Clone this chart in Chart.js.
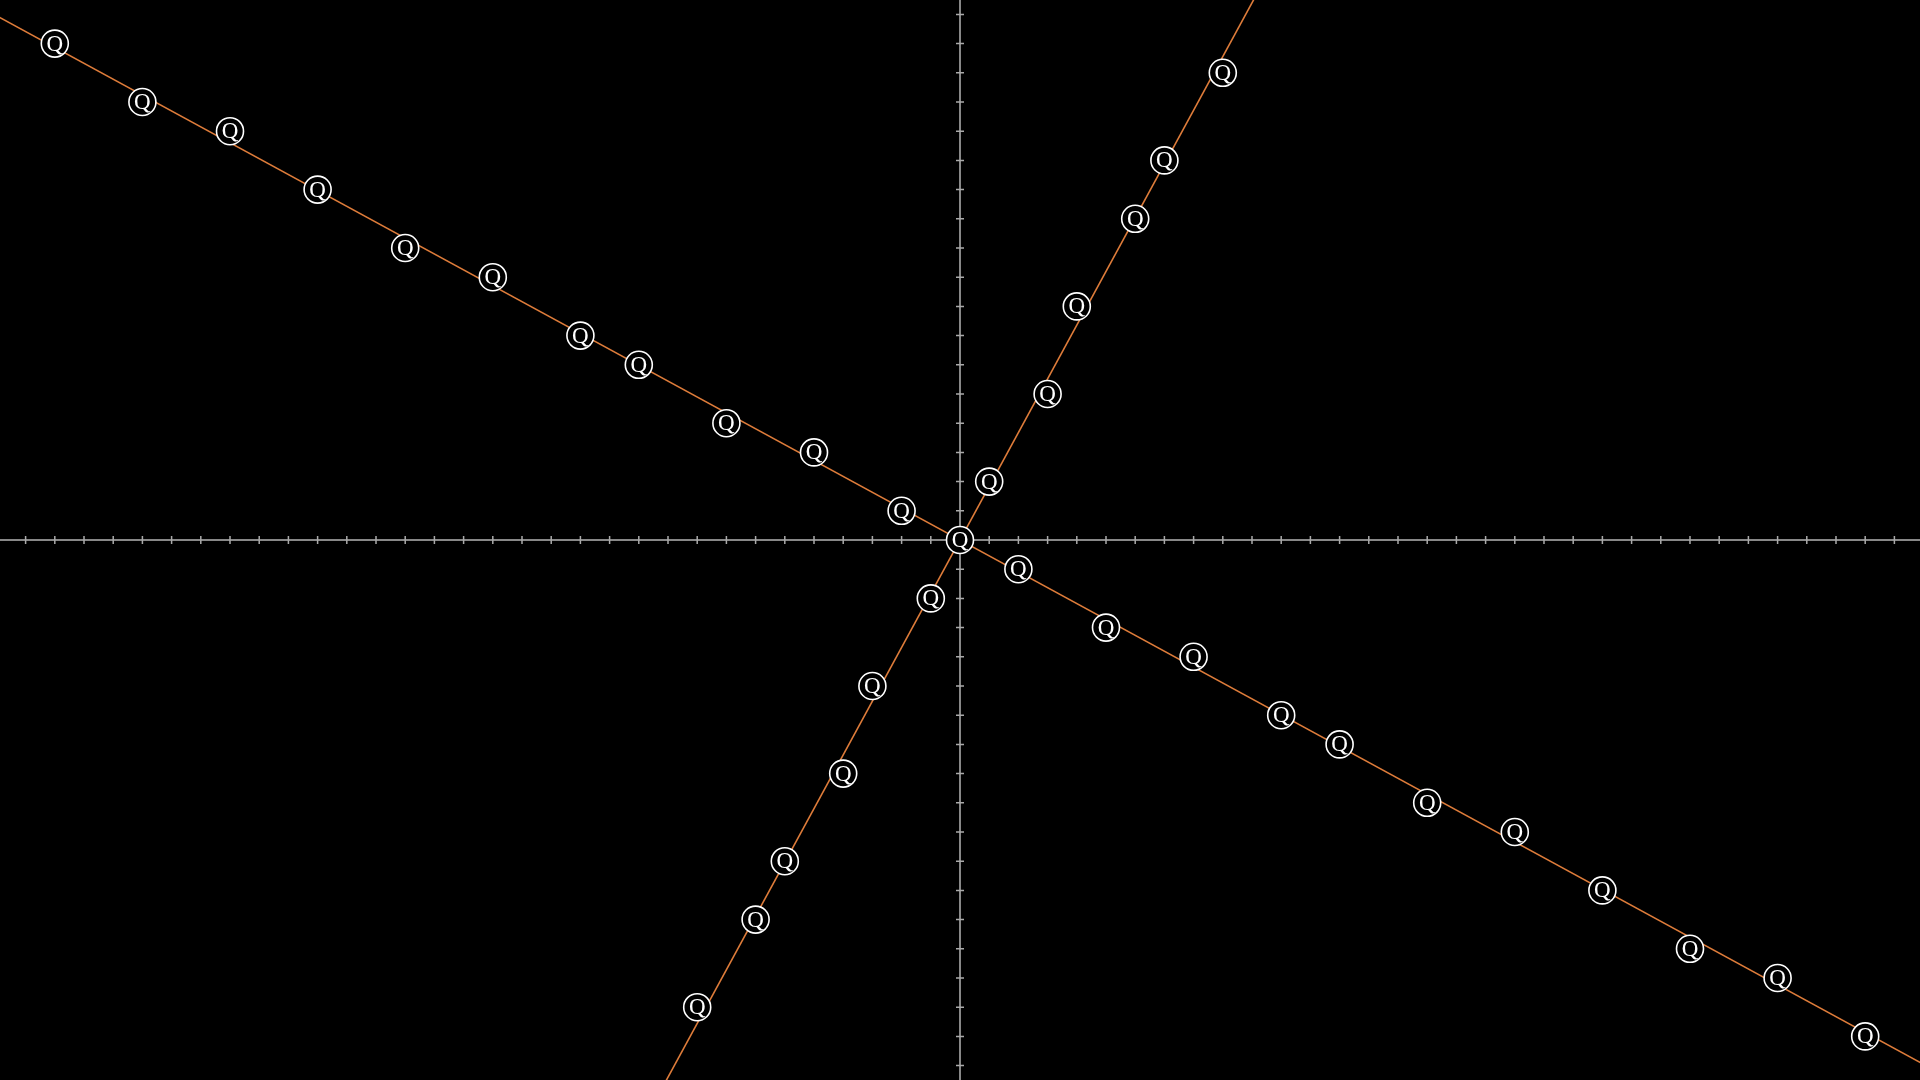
<!DOCTYPE html>
<html>
<head>
<meta charset="utf-8">
<script src="https://cdn.jsdelivr.net/npm/chart.js@4.4.1/dist/chart.umd.min.js"></script>
<style>
  html, body { margin: 0; padding: 0; background: #000; }
  canvas { display: block; }
</style>
</head>
<body>
<canvas id="plot" width="1920" height="1080"></canvas>
<script>
// view range, in tick units
const xRange = [-32.877, 32.877];
const yRange = [-18.493, 18.493];

// marked points along the shallow line
const shallowX = [-31, -28, -25, -22, -19, -16, -13, -11, -8, -5, -2, 0, 2, 5, 8, 11, 13, 16, 19, 22, 25, 28, 31];
const shallowY = [17, 15, 14, 12, 10, 9, 7, 6, 4, 3, 1, 0, -1, -3, -4, -6, -7, -9, -10, -12, -14, -15, -17];

// marked points along the steep line
const steepX = [-9, -7, -6, -4, -3, -1, 1, 3, 4, 6, 7, 9];
const steepY = [-16, -13, -11, -8, -5, -2, 2, 5, 8, 11, 13, 16];

// line ends (just past the edges)
const shallowLineX = [-34, 34];
const shallowLineY = [18.5, -18.5];
const steepLineX = [-10.6, 10.6];
const steepLineY = [-19.5, 19.5];

const markerLabel = 'Q';

const toPoints = (xs, ys) => xs.map((x, i) => ({ x: x, y: ys[i] }));

// axes with ticks crossing the line on both sides
const axesPlugin = {
  id: 'axes',
  beforeDatasetsDraw(chart) {
    const { ctx, scales: { x, y } } = chart;
    const x0 = x.getPixelForValue(0);
    const y0 = y.getPixelForValue(0);
    ctx.save();
    ctx.strokeStyle = '#888888';
    ctx.lineWidth = 2;
    ctx.beginPath();
    ctx.moveTo(x.left, y0);
    ctx.lineTo(x.right, y0);
    ctx.moveTo(x0, y.top);
    ctx.lineTo(x0, y.bottom);
    ctx.stroke();

    ctx.strokeStyle = '#aaaaaa';
    ctx.lineWidth = 1.5;
    ctx.beginPath();
    for (let v = Math.ceil(x.min); v <= Math.floor(x.max); v++) {
      if (v === 0) continue;
      const px = x.getPixelForValue(v);
      ctx.moveTo(px, y0 - 4);
      ctx.lineTo(px, y0 + 4);
    }
    for (let v = Math.ceil(y.min); v <= Math.floor(y.max); v++) {
      if (v === 0) continue;
      const py = y.getPixelForValue(v);
      ctx.moveTo(x0 - 4, py);
      ctx.lineTo(x0 + 4, py);
    }
    ctx.stroke();
    ctx.restore();
  }
};

// letter inside every marker
const labelPlugin = {
  id: 'markerLabels',
  afterDatasetsDraw(chart) {
    const { ctx } = chart;
    ctx.save();
    ctx.fillStyle = '#ffffff';
    ctx.font = '23px "Liberation Serif", "DejaVu Serif", serif';
    ctx.textAlign = 'center';
    ctx.textBaseline = 'middle';
    chart.data.datasets.forEach((ds, i) => {
      if (!ds.marked) return;
      chart.getDatasetMeta(i).data.forEach(pt => {
        ctx.fillText(markerLabel, pt.x, pt.y + 1);
      });
    });
    ctx.restore();
  }
};

const lineStyle = {
  showLine: true,
  borderColor: '#de7c3a',
  borderWidth: 1.6,
  pointRadius: 0,
  order: 2
};

const markerStyle = {
  showLine: false,
  marked: true,
  pointRadius: 13.5,
  pointHoverRadius: 13.5,
  pointBackgroundColor: '#000000',
  pointBorderColor: '#ffffff',
  pointBorderWidth: 1.6,
  order: 1
};

new Chart(document.getElementById('plot'), {
  type: 'scatter',
  data: {
    datasets: [
      { ...lineStyle, data: toPoints(shallowLineX, shallowLineY) },
      { ...lineStyle, data: toPoints(steepLineX, steepLineY) },
      { ...markerStyle, data: toPoints(shallowX, shallowY) },
      { ...markerStyle, data: toPoints(steepX, steepY) }
    ]
  },
  options: {
    responsive: false,
    animation: false,
    devicePixelRatio: 1,
    layout: { padding: 0, autoPadding: false },
    plugins: {
      legend: { display: false },
      tooltip: { enabled: false }
    },
    scales: {
      x: { type: 'linear', min: xRange[0], max: xRange[1], display: false },
      y: { type: 'linear', min: yRange[0], max: yRange[1], display: false }
    }
  },
  plugins: [axesPlugin, labelPlugin]
});
</script>
</body>
</html>
